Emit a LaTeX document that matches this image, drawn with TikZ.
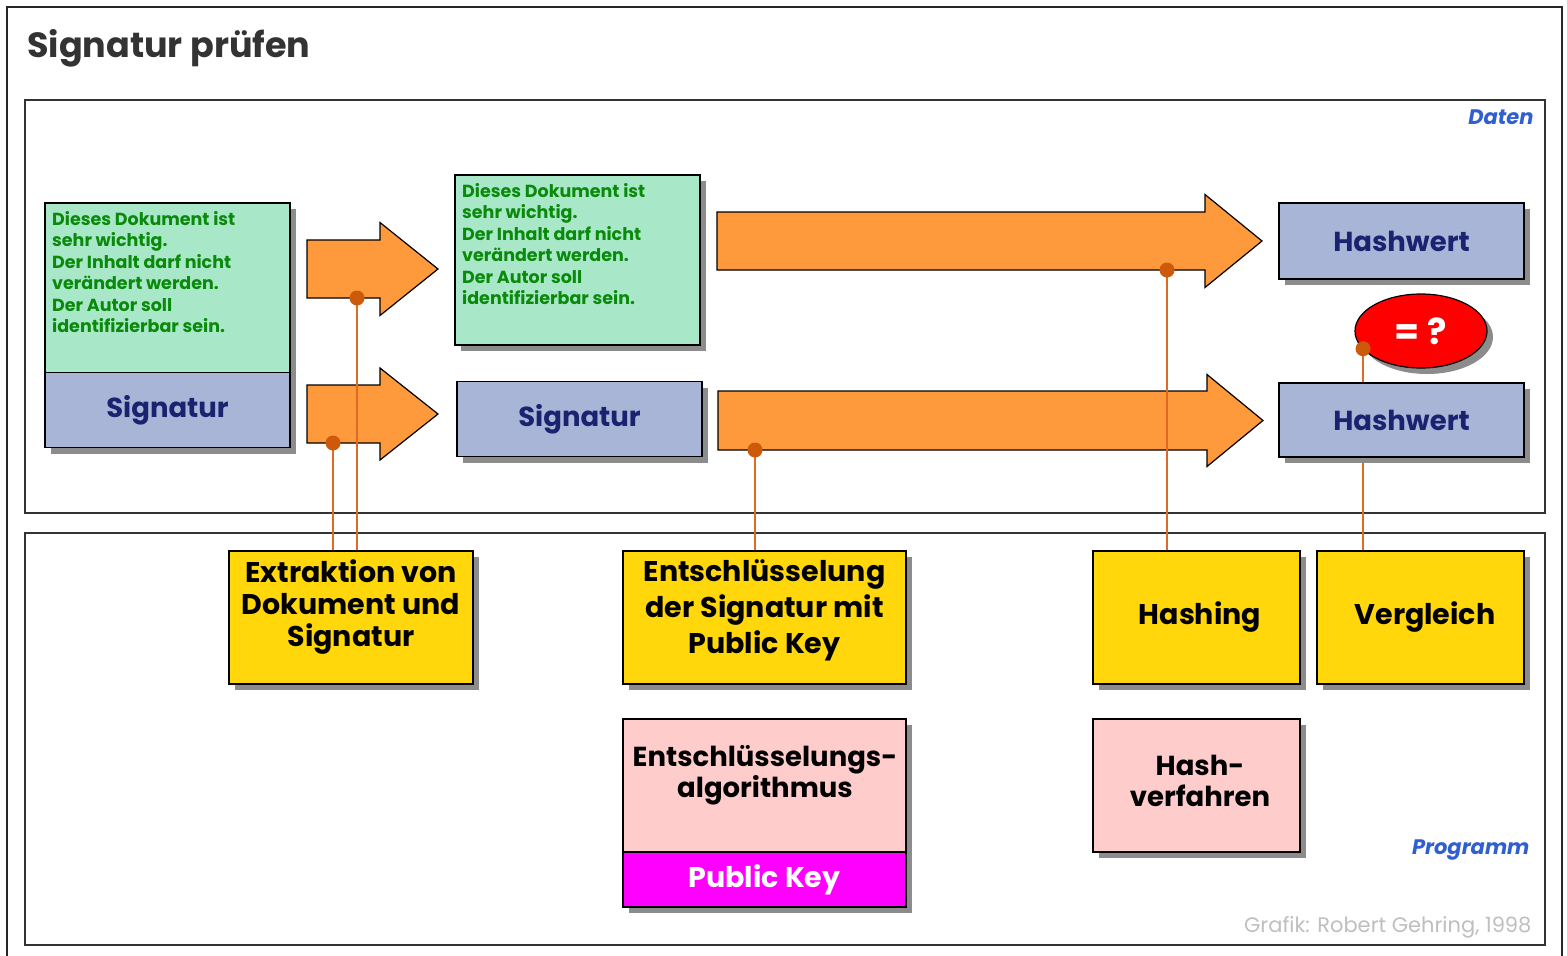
\documentclass[tikz,border=0pt]{standalone}
\usepackage{fontspec}
\setmainfont{Poppins}
\usepackage{tikz}
\usetikzlibrary{positioning, shapes.geometric, shadows}

\definecolor{minze}{HTML}{A9E7C9}
\definecolor{graublau}{HTML}{A9B5D6}
\definecolor{tinte}{HTML}{1B2270}
\definecolor{gruen}{HTML}{0A8A0A}
\definecolor{pfeilorange}{HTML}{FF9A3C}
\definecolor{punktorange}{HTML}{CC5A0A}
\definecolor{linie}{HTML}{DE6A28}
\definecolor{gelb}{HTML}{FFD70A}
\definecolor{rosa}{HTML}{FFCCCC}
\definecolor{magenta2}{HTML}{FF00FF}
\definecolor{blauschrift}{HTML}{2F5FD0}

\tikzset{
  box/.style={draw=black, line width=1.5pt, rectangle, inner sep=0pt,
    drop shadow={shadow xshift=6pt, shadow yshift=-6pt, fill=black!45, opacity=1}},
  doc/.style={box, fill=minze, minimum width=245pt, minimum height=170pt},
  sig/.style={box, fill=graublau, minimum width=245pt, minimum height=75pt,
    text=tinte, font=\bfseries\fontsize{27.5}{30}\selectfont},
  prog/.style={box, fill=gelb, minimum height=133pt, align=center,
    font=\bfseries\fontsize{28.5}{33}\selectfont},
  verf/.style={box, fill=rosa, minimum height=133pt, align=center,
    font=\bfseries\fontsize{27.5}{31}\selectfont},
  doctext/.style={anchor=north west, inner sep=0pt, align=left, text=gruen,
    font=\bfseries\fontsize{17.5}{21.5}\selectfont},
  rahmen/.style={draw=black!80, line width=2pt},
  pfeil/.style={fill=pfeilorange, draw=black, line width=1.2pt},
  punkt/.style={circle, fill=punktorange, inner sep=0pt, minimum size=15pt},
  leitung/.style={draw=linie, line width=1.6pt},
  bereich/.style={text=blauschrift, font=\bfseries\itshape\fontsize{21}{22}\selectfont}
}

% block arrow: name, x start, x neck, x tip, y centre, half body, half head
\newcommand{\blockpfeil}[7]{%
  \draw[pfeil] (#2,#5-#6) -- (#3,#5-#6) -- (#3,#5-#7) -- (#4,#5)
    -- (#3,#5+#7) -- (#3,#5+#6) -- (#2,#5+#6) -- cycle;
  \coordinate (#1) at (#2,#5+#6);
}

\begin{document}
\begin{tikzpicture}[x=1pt, y=-1pt]
\useasboundingbox (0,0) rectangle (1567,956);
\fill[white] (0,0) rectangle (1567,956);

% outer frame and the two areas
\draw[line width=2.5pt, black!85] (7,970) -- (7,7) -- (1562,7) -- (1562,970);
\draw[rahmen] (25,100) rectangle (1545,513);
\draw[rahmen] (25,533) rectangle (1545,945);

% title
\node[anchor=west, inner sep=0pt, text=black!80, font=\bfseries\fontsize{35}{38}\selectfont]
  (titel) at (27,48) {Signatur prüfen};

\node[bereich, anchor=east] (daten) at (1537,117) {Daten};
\node[bereich, anchor=east] (programm) at (1533,850) {Programm};
\node[anchor=east, text=black!25, font=\fontsize{21}{22}\selectfont]
  (grafik) at (1535,927) {Grafik: Robert Gehring, 1998};

% arrows
\blockpfeil{a1}{307}{380}{438}{269}{29}{46.5}
\blockpfeil{a2}{307}{380}{438}{414}{29}{46}
\blockpfeil{a3}{717}{1205}{1262}{241}{29}{46.5}
\blockpfeil{a4}{718}{1207}{1263}{420.5}{29.5}{46}

\coordinate (p1) at (357,298);
\coordinate (p2) at (333,443);
\coordinate (p3) at (755,450);
\coordinate (p4) at (1167,270);

% bottom boxes
\node[prog, minimum width=244pt] (extraktion) at (351,617.5) {};
\node[prog, minimum width=283pt] (entschl) at (764.5,617.5) {};
\node[prog, minimum width=207pt] (hashing) at (1196.5,617.5) {};
\node[prog, minimum width=207pt] (vergleich) at (1420.5,617.5) {};

\node[verf, minimum width=283pt] (algo) at (764.5,785.5) {};
\node[box, fill=magenta2, minimum width=283pt, minimum height=55pt, text=white,
  font=\bfseries\fontsize{28.5}{30}\selectfont] (pubkey) at (764.5,879.5) {Public Key};
\node[verf, minimum width=207pt] (hashverf) at (1196.5,785.5) {};

% texts of the program boxes
\node[align=center, font=\bfseries\fontsize{28.5}{32}\selectfont] (t1) at (351,607) {Extraktion von\\Dokument und\\Signatur};
\node[align=center, font=\bfseries\fontsize{28.5}{36}\selectfont] (t2) at (764.5,610) {Entschlüsselung\\der Signatur mit\\Public Key};
\node[font=\bfseries\fontsize{28.5}{30}\selectfont] (t3) at (1200,617) {Hashing};
\node[font=\bfseries\fontsize{28.5}{30}\selectfont] (t4) at (1425,617) {Vergleich};
\node[align=center, font=\bfseries\fontsize{27.5}{31}\selectfont] (t5) at (765,775) {Entschlüsselungs-\\algorithmus};
\node[align=center, font=\bfseries\fontsize{27.5}{31}\selectfont] (t6) at (1200,781) {Hash-\\verfahren};

% comparison
\node[ellipse, draw=black, line width=1.2pt, fill=red, minimum width=132pt, minimum height=74pt,
  outer sep=0pt, text=white, font=\bfseries\fontsize{36}{38}\selectfont,
  drop shadow={shadow xshift=6pt, shadow yshift=-6pt, fill=black!45, opacity=1}]
  (gleich) at (1421,331) {= ?};
\coordinate (p5) at (gleich.197);

% connectors
\draw[leitung] (p1) -- (p1 |- extraktion.north);
\draw[leitung] (p2) -- (p2 |- extraktion.north);
\draw[leitung] (p3) -- (p3 |- entschl.north);
\draw[leitung] (p4) -- (p4 |- hashing.north);
\draw[leitung] (p5) -- (p5 |- vergleich.north);

% data boxes
\node[doc] (dok1) at (167.5,288) {};
\node[sig] (sig1) at (167.5,410) {Signatur};
\node[doctext] (text1) at (52,211) {Dieses Dokument ist\\sehr wichtig.\\Der Inhalt darf nicht\\verändert werden.\\Der Autor soll\\identifizierbar sein.};
\node[doc] (dok2) at (577.5,260) {};
\node[doctext] (text2) at (462,183) {Dieses Dokument ist\\sehr wichtig.\\Der Inhalt darf nicht\\verändert werden.\\Der Autor soll\\identifizierbar sein.};
\node[sig] (sig2) at (579.5,419) {Signatur};
\node[sig, minimum height=76pt] (hash1) at (1401.5,241) {Hashwert};
\node[sig, minimum height=74pt] (hash2) at (1401.5,420) {Hashwert};

\foreach \p in {p1,p2,p3,p4,p5}
  \node[punkt] at (\p) {};
\end{tikzpicture}
\end{document}
